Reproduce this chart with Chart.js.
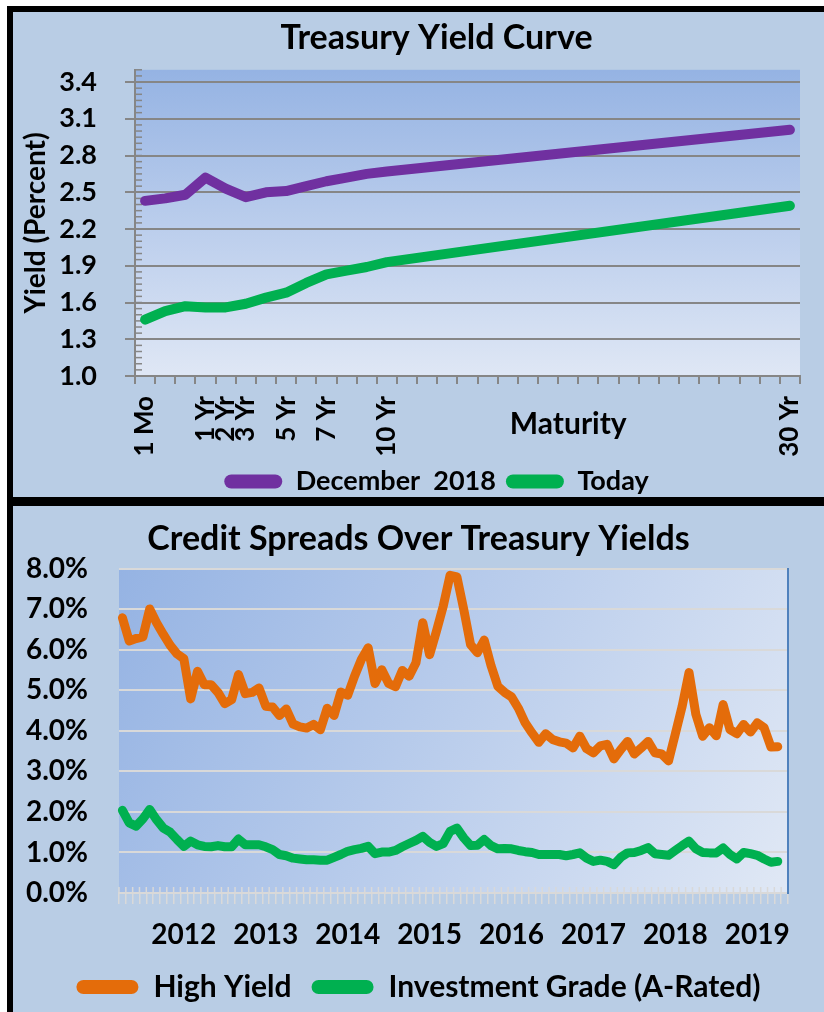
<!DOCTYPE html>
<html>
<head>
<meta charset="utf-8">
<script src="https://cdn.jsdelivr.net/npm/chart.js@4"></script>
<style>
  body { margin: 0; background: #fff; }
  #frame { position: absolute; left: 7px; top: 6px; width: 817px; height: 1006px; background: #000; }
  .panel { position: absolute; left: 13px; width: 811px; background: #b9cde5; overflow: hidden; }
  #p1 { top: 12px; height: 485px; }
  #p2 { top: 506px; height: 506px; }
  .box { position: absolute; left: 0; top: 0; }
</style>
</head>
<body>
<div id="frame"></div>
<div class="panel" id="p1"><div class="box" style="width:847px;height:493px"><canvas id="yieldChart"></canvas></div></div>
<div class="panel" id="p2"><div class="box" style="width:811px;height:506px"><canvas id="spreadChart"></canvas></div></div>
<script>
// Treasury yield curve: one category per slot on the maturity axis
const maturities = ['1 Mo', '', '', '1 Yr', '2 Yr', '3 Yr', '', '5 Yr', '', '7 Yr', '', '', '10 Yr',
  '', '', '', '', '', '', '', '', '', '', '', '', '', '', '', '', '', '', '', '30 Yr'];
const dec2018 = [2.43, 2.45, 2.48, 2.62, 2.53, 2.46, 2.50, 2.51, 2.55, 2.59, 2.62, 2.65, 2.67,
  null, null, null, null, null, null, null, null, null, null, null, null, null, null, null, null, null, null, null, 3.01];
const today = [1.46, 1.53, 1.57, 1.56, 1.56, 1.59, 1.64, 1.68, 1.76, 1.83, 1.86, 1.89, 1.93,
  null, null, null, null, null, null, null, null, null, null, null, null, null, null, null, null, null, null, null, 2.39];
const yieldTickValues = [1.0, 1.3, 1.6, 1.9, 2.2, 2.5, 2.8, 3.1, 3.4];
const yieldRange = { min: 1.0, max: 3.5, minor: 0.05 };

// Credit spreads, monthly from Apr 2011 (last slot May 2019 left empty)
const monthNames = ['Jan', 'Feb', 'Mar', 'Apr', 'May', 'Jun', 'Jul', 'Aug', 'Sep', 'Oct', 'Nov', 'Dec'];
const months = [];
for (let k = 0; k < 98; k++) {
  months.push(monthNames[(3 + k) % 12] + ' ' + (2011 + Math.floor((3 + k) / 12)));
}
const highYield = [
  6.79, 6.22, 6.28, 6.32, 7.01, 6.67, 6.38, 6.11, 5.90, 5.78, 4.79, 5.47, 5.14, 5.14, 4.95, 4.67,
  4.77, 5.39, 4.92, 4.95, 5.06, 4.61, 4.59, 4.38, 4.54, 4.17, 4.10, 4.07, 4.16, 4.03, 4.56, 4.38,
  4.96, 4.88, 5.35, 5.76, 6.05, 5.17, 5.51, 5.17, 5.09, 5.49, 5.35, 5.68, 6.67, 5.88, 6.46, 7.08,
  7.84, 7.80, 7.00, 6.13, 5.93, 6.24, 5.61, 5.10, 4.95, 4.84, 4.56, 4.20, 3.95, 3.72, 3.93, 3.79,
  3.73, 3.70, 3.58, 3.87, 3.56, 3.46, 3.63, 3.67, 3.31, 3.54, 3.74, 3.43, 3.58, 3.74, 3.46, 3.43,
  3.26, 3.93, 4.61, 5.44, 4.41, 3.87, 4.08, 3.88, 4.65, 4.03, 3.93, 4.16, 3.97, 4.20, 4.08, 3.60, 3.61];
const investmentGrade = [
  2.04, 1.73, 1.65, 1.83, 2.06, 1.81, 1.60, 1.50, 1.32, 1.15, 1.28, 1.19, 1.15, 1.14, 1.17, 1.14,
  1.14, 1.33, 1.19, 1.19, 1.19, 1.14, 1.07, 0.95, 0.92, 0.86, 0.84, 0.82, 0.82, 0.81, 0.81, 0.88,
  0.95, 1.03, 1.07, 1.10, 1.15, 0.97, 1.01, 1.01, 1.05, 1.14, 1.22, 1.30, 1.40, 1.25, 1.15, 1.22,
  1.52, 1.60, 1.36, 1.17, 1.18, 1.32, 1.17, 1.09, 1.10, 1.09, 1.05, 1.02, 1.00, 0.95, 0.95, 0.95,
  0.95, 0.92, 0.95, 0.99, 0.86, 0.78, 0.81, 0.78, 0.70, 0.88, 0.99, 1.00, 1.05, 1.12, 0.97, 0.95,
  0.93, 1.05, 1.17, 1.28, 1.09, 1.00, 0.99, 0.99, 1.11, 0.95, 0.84, 1.00, 0.97, 0.93, 0.84, 0.76, 0.78];

const FONT = "Lato, 'Open Sans', sans-serif";
Chart.defaults.font.family = FONT;
Chart.defaults.font.weight = 'bold';
Chart.defaults.color = '#000';

// gradient fill behind the plot area
const plotBackground = {
  id: 'plotBackground',
  beforeDraw(chart, args, opts) {
    const { ctx, chartArea: a } = chart;
    const g = opts.diagonal
      ? ctx.createLinearGradient(a.left, a.top, a.right, a.bottom)
      : ctx.createLinearGradient(0, a.top, 0, a.bottom);
    g.addColorStop(0, opts.from);
    g.addColorStop(1, opts.to);
    ctx.save();
    ctx.fillStyle = g;
    ctx.fillRect(a.left, a.top, a.width, a.height);
    ctx.restore();
  }
};

// small inside ticks on the yield axis
const minorTicks = {
  id: 'minorTicks',
  beforeDatasetsDraw(chart) {
    const y = chart.scales.y, ctx = chart.ctx;
    ctx.save();
    ctx.strokeStyle = '#868686';
    ctx.lineWidth = 1.5;
    for (let v = yieldRange.min; v <= yieldRange.max + 1e-9; v += yieldRange.minor) {
      const py = y.getPixelForValue(v);
      ctx.beginPath();
      ctx.moveTo(y.right, py);
      ctx.lineTo(y.right + 7, py);
      ctx.stroke();
    }
    ctx.restore();
  }
};

// date axis ticks poke a little into the plot as well
const innerXTicks = {
  id: 'innerXTicks',
  beforeDatasetsDraw(chart) {
    const x = chart.scales.x, ctx = chart.ctx;
    const half = (x.getPixelForValue(1) - x.getPixelForValue(0)) / 2;
    ctx.save();
    ctx.strokeStyle = '#d9d9d9';
    ctx.lineWidth = 1.5;
    for (let i = 0; i < months.length; i++) {
      const px = x.getPixelForValue(i) - half;
      ctx.beginPath();
      ctx.moveTo(px, x.top);
      ctx.lineTo(px, x.top - 6);
      ctx.stroke();
    }
    ctx.restore();
  }
};

// "Maturity" caption sits inside the tick-label band
const axisCaption = {
  id: 'axisCaption',
  afterDraw(chart, args, opts) {
    const ctx = chart.ctx;
    const x = chart.scales.x.getPixelForValue(opts.at);
    ctx.save();
    ctx.font = 'bold 30px ' + FONT;
    ctx.fillStyle = '#000';
    ctx.textAlign = 'center';
    ctx.textBaseline = 'middle';
    ctx.fillText(opts.text, x, chart.chartArea.bottom + opts.offset);
    ctx.restore();
  }
};

function lineLegendLabels(chart) {
  return Chart.defaults.plugins.legend.labels.generateLabels(chart).map(l => Object.assign(l, { lineWidth: 0 }));
}

new Chart(document.getElementById('yieldChart'), {
  type: 'line',
  data: {
    labels: maturities,
    datasets: [
      { label: 'December  2018', data: dec2018, borderColor: '#7030a0', backgroundColor: '#7030a0' },
      { label: 'Today', data: today, borderColor: '#00b050', backgroundColor: '#00b050' }
    ]
  },
  options: {
    responsive: true,
    maintainAspectRatio: false,
    animation: false,
    spanGaps: true,
    layout: { padding: 0 },
    elements: {
      line: { borderWidth: 10, borderCapStyle: 'round', borderJoinStyle: 'round', tension: 0 },
      point: { radius: 0 }
    },
    plugins: {
      title: { display: true, text: 'Treasury Yield Curve', font: { size: 34 }, padding: { top: 6, bottom: 11 } },
      legend: {
        position: 'bottom',
        labels: { boxWidth: 58, boxHeight: 14, useBorderRadius: true, borderRadius: 7, padding: 10,
          font: { size: 27 }, generateLabels: lineLegendLabels }
      },
      tooltip: { enabled: false },
      plotBackground: { from: '#95b3e3', to: '#dfe7f5' },
      axisCaption: { text: 'Maturity', at: 21, offset: 48 }
    },
    scales: {
      x: {
        offset: true,
        afterFit(s) { s.height = 82; },
        grid: { offset: true, drawOnChartArea: false, color: '#868686', lineWidth: 2, tickLength: 8 },
        border: { color: '#868686', width: 2 },
        ticks: { autoSkip: false, maxRotation: 90, minRotation: 90, padding: 12, font: { size: 26 } }
      },
      y: {
        min: yieldRange.min,
        max: yieldRange.max,
        afterFit(s) { s.width = 122; },
        afterBuildTicks(s) { s.ticks = yieldTickValues.map(v => ({ value: v })); },
        ticks: { padding: 28, font: { size: 27 }, callback: v => v.toFixed(1) },
        grid: { color: '#868686', lineWidth: 2, tickLength: 10 },
        border: { color: '#868686', width: 2 },
        title: { display: true, text: 'Yield (Percent)', font: { size: 28 }, padding: { top: 6, bottom: 0 } }
      },
      yr: {
        position: 'right',
        afterFit(s) { s.width = 60; },
        grid: { display: false },
        border: { display: false },
        ticks: { display: false }
      }
    }
  },
  plugins: [plotBackground, minorTicks, axisCaption]
});

new Chart(document.getElementById('spreadChart'), {
  type: 'line',
  data: {
    labels: months,
    datasets: [
      { label: 'High Yield', data: highYield, borderColor: '#e46c0a', backgroundColor: '#e46c0a' },
      { label: 'Investment Grade (A-Rated)', data: investmentGrade, borderColor: '#00b050', backgroundColor: '#00b050' }
    ]
  },
  options: {
    responsive: true,
    maintainAspectRatio: false,
    animation: false,
    layout: { padding: 0 },
    elements: {
      line: { borderWidth: 9, borderCapStyle: 'round', borderJoinStyle: 'round', tension: 0 },
      point: { radius: 0 }
    },
    plugins: {
      title: { display: true, text: 'Credit Spreads Over Treasury Yields', font: { size: 34 }, padding: { top: 13, bottom: 9 } },
      legend: {
        position: 'bottom',
        labels: { boxWidth: 62, boxHeight: 14, useBorderRadius: true, borderRadius: 7, padding: 20,
          font: { size: 30 }, generateLabels: lineLegendLabels }
      },
      tooltip: { enabled: false },
      plotBackground: { from: '#95b3e3', to: '#e0e8f5', diagonal: true }
    },
    scales: {
      x: {
        offset: true,
        afterFit(s) { s.height = 59; },
        grid: { offset: true, drawOnChartArea: false, color: '#d9d9d9', lineWidth: 1.5, tickLength: 11 },
        border: { color: '#d9d9d9', width: 2 },
        ticks: {
          autoSkip: false, maxRotation: 0, padding: 14, font: { size: 28 },
          callback(v) {
            const l = this.getLabelForValue(v);
            return l.startsWith('Jan') ? l.slice(4) : '';
          }
        }
      },
      y: {
        min: 0,
        max: 8,
        afterFit(s) { s.width = 106; },
        ticks: { stepSize: 1, padding: 0, font: { size: 28 }, callback: v => v.toFixed(1) + '%' },
        grid: { color: '#d9d9d9', lineWidth: 2, drawTicks: true, tickLength: 31, tickColor: 'rgba(0,0,0,0)' },
        border: { display: false }
      },
      y2: {
        position: 'right',
        afterFit(s) { s.width = 36; },
        grid: { display: false },
        ticks: { display: false },
        border: { color: '#4f81bd', width: 2 }
      }
    }
  },
  plugins: [plotBackground, innerXTicks]
});
</script>
</body>
</html>
